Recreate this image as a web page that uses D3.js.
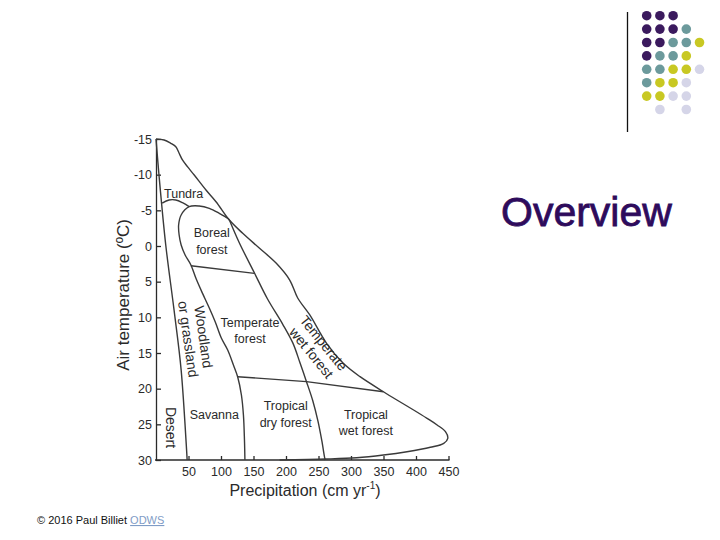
<!DOCTYPE html>
<html>
<head>
<meta charset="utf-8">
<script src="https://cdn.jsdelivr.net/npm/d3@7"></script>
<style>
  body { margin: 0; background: #fff; }
  svg { font-family: "Liberation Sans", Arial, sans-serif; }
  .axis path, .axis line { stroke: #2a2a2a; stroke-width: 1.3; }
  .axis text { font-size: 12.5px; fill: #2a2a2a; font-family: "Liberation Sans", Arial, sans-serif; }
  .edge { fill: none; stroke: #3a3a3a; stroke-width: 1.4; }
  .biome-label { fill: #2a2a2a; text-anchor: middle; }
</style>
</head>
<body>
<div id="chart"></div>
<script>
// Whittaker biome diagram on an "Overview" slide

const width = 720;
const height = 540;

// Axis ticks
const yTicks = [-15, -10, -5, 0, 5, 10, 15, 20, 25, 30];
const xTicks = [50, 100, 150, 200, 250, 300, 350, 400, 450];

// Boundaries, as [precipitation cm/yr, temperature °C]
const outerEdge = [[0, -15], [12.4, -14.86], [22.7, -14.4], [30.5, -13.92], [35.6, -13.0], [40.7, -12.06],
  [48.4, -11.12], [58.8, -9.95], [76.9, -7.85], [92.3, -6.21], [112.9, -3.64], [133.4, -1.78],
  [159.3, 0.32], [185.1, 2.43], [205.7, 4.77], [218, 7.29], [236.6, 9.67], [262.4, 13.64],
  [288.1, 16.44], [313.9, 18.32], [349.9, 20.43], [370.6, 21.59], [396.3, 22.99], [417, 24.16],
  [432.5, 25.09], [445.3, 26.03], [448.9, 26.96], [442.7, 27.66], [422.1, 28.22], [386.1, 28.84],
  [349.9, 29.3], [308.8, 29.68], [262.4, 29.86], [190.2, 30]];

const desertEdge = [[0, -15], [4.6, -9.95], [15, -0.14], [27.8, 9.0], [38.7, 17.4], [47.9, 30]];

const tundraEdge = [[9.5, -6.0], [20.1, -6.45], [30.5, -6.45], [40.7, -6.07], [51, -5.51]];

const borealWoodlandEdge = [[112.9, -3.64], [110.3, -3.88], [97.4, -4.58], [82, -5.28], [66.5, -5.61],
  [51, -5.51], [38.7, -4.35], [34.8, -2.94], [35.6, -1.54], [38.7, -0.14], [44.8, 1.26], [53.7, 2.66],
  [61.9, 4.63], [71.6, 6.64], [82, 8.69], [91.2, 10.65], [100.5, 12.9], [110.3, 14.58], [119.1, 16.68],
  [125.7, 18.36], [131.4, 20.89], [134.5, 23.69], [136.1, 27.2], [136.8, 30]];

const wetForestEdge = [[112.9, -3.64], [128.3, -0.42], [151.5, 3.79], [171.6, 7.43], [194.8, 10.94],
  [210.8, 13.65], [221.1, 16.26], [231.5, 19.02], [241.2, 21.69], [249, 24.49], [255.1, 27.3],
  [259.8, 29.82], [260.5, 30]];

const borealSplit = [[53.7, 2.76], [151.5, 3.83]];
const tropicalSplit = [[125.7, 18.32], [231.5, 19.02], [349.9, 20.43]];

// Biome names and where they sit [precip, temp], with text angle
const biomeNames = [
  { lines: ["Tundra"], at: [42.5, -7.36], angle: 0 },
  { lines: ["Boreal", "forest"], at: [85.8, -0.7], angle: 0 },
  { lines: ["Woodland", "or grassland"], at: [61.4, 12.9], angle: 82 },
  { lines: ["Temperate", "forest"], at: [144.6, 11.88], angle: 0 },
  { lines: ["Temperate", "wet forest"], at: [248.5, 14.3], angle: 51 },
  { lines: ["Desert"], at: [22.4, 25.45], angle: 90 },
  { lines: ["Savanna"], at: [89.7, 23.69], angle: 0 },
  { lines: ["Tropical", "dry forest"], at: [199.5, 23.55], angle: 0 },
  { lines: ["Tropical", "wet forest"], at: [322.9, 24.75], angle: 0 }
];

// Decorative dot grid (P purple, T teal, Y yellow, L lavender, . empty)
const dotRows = ["PPP..", "PPPT.", "PPTTY", "PTTY.", "TTYYL", "TYYL.", "YYLL.", ".L.L."];
const dotColors = { P: "#3b1a5e", T: "#6c9a9c", Y: "#c8c823", L: "#d5d5e8" };

const svg = d3.select("#chart")
  .append("svg")
  .attr("width", width)
  .attr("height", height);

// Scales
const x = d3.scaleLinear().domain([0, 450]).range([156, 448.5]);
const y = d3.scaleLinear().domain([-15, 30]).range([139, 460]);

// Axes
svg.append("g")
  .attr("class", "axis")
  .attr("transform", `translate(0, ${y(30)})`)
  .call(d3.axisBottom(x).tickValues(xTicks).tickSizeInner(-4).tickSizeOuter(0).tickPadding(7))
  .call(g => g.select(".domain").attr("d", `M${x(0) - 1},0H${x(450) + 1}`));

svg.append("g")
  .attr("class", "axis")
  .attr("transform", `translate(${x(0)}, 0)`)
  .call(d3.axisLeft(y).tickValues(yTicks).tickSizeInner(-5).tickSizeOuter(0).tickPadding(4)
    .tickFormat(d => String(d)));

// Boundaries
const curve = d3.line().x(d => x(d[0])).y(d => y(d[1])).curve(d3.curveCatmullRom);
const straight = d3.line().x(d => x(d[0])).y(d => y(d[1]));

[outerEdge, desertEdge, tundraEdge, borealWoodlandEdge, wetForestEdge].forEach(edge => {
  svg.append("path").attr("class", "edge").attr("d", curve(edge));
});
[borealSplit, tropicalSplit].forEach(edge => {
  svg.append("path").attr("class", "edge").attr("d", straight(edge));
});

// Biome labels
biomeNames.forEach(b => {
  const fs = b.angle ? 14 : 12.5;
  const lh = b.angle ? 15.5 : 16.5;
  const g = svg.append("g")
    .attr("transform", `translate(${x(b.at[0])}, ${y(b.at[1])}) rotate(${b.angle})`);
  b.lines.forEach((line, i) => {
    g.append("text")
      .attr("class", "biome-label")
      .attr("font-size", fs)
      .attr("y", (i - (b.lines.length - 1) / 2) * lh)
      .attr("dy", "0.35em")
      .text(line);
  });
});

// Axis titles
svg.append("text")
  .attr("transform", "translate(123, 295) rotate(-90)")
  .attr("text-anchor", "middle")
  .attr("dy", "0.35em")
  .attr("font-size", 17)
  .attr("fill", "#2a2a2a")
  .text("Air temperature  (ºC)");

const xTitle = svg.append("text")
  .attr("x", 305)
  .attr("y", 496)
  .attr("text-anchor", "middle")
  .attr("font-size", 16)
  .attr("fill", "#2a2a2a");
xTitle.append("tspan").text("Precipitation (cm yr");
xTitle.append("tspan").attr("font-size", 10).attr("dy", -7).text("-1");
xTitle.append("tspan").attr("dy", 7).text(")");

// Slide title
svg.append("text")
  .attr("x", 501)
  .attr("y", 226)
  .attr("font-size", 41)
  .attr("fill", "#2e0b5c")
  .attr("stroke", "#2e0b5c")
  .attr("stroke-width", 0.8)
  .text("Overview");

// Dot grid and rule
svg.append("line")
  .attr("x1", 627.5).attr("x2", 627.5)
  .attr("y1", 12).attr("y2", 132)
  .attr("stroke", "#111")
  .attr("stroke-width", 1.3);

dotRows.forEach((row, r) => {
  row.split("").forEach((c, i) => {
    if (c === ".") return;
    svg.append("circle")
      .attr("cx", 646.7 + i * 13.2)
      .attr("cy", 15.7 + r * 13.4)
      .attr("r", 4.8)
      .attr("fill", dotColors[c]);
  });
});

// Footer
const foot = svg.append("text")
  .attr("x", 37)
  .attr("y", 524)
  .attr("font-size", 11)
  .attr("fill", "#111");
foot.append("tspan").text("© 2016 Paul Billiet ");
foot.append("tspan")
  .attr("fill", "#7f9cc6")
  .style("text-decoration", "underline")
  .text("ODWS");
</script>
</body>
</html>
